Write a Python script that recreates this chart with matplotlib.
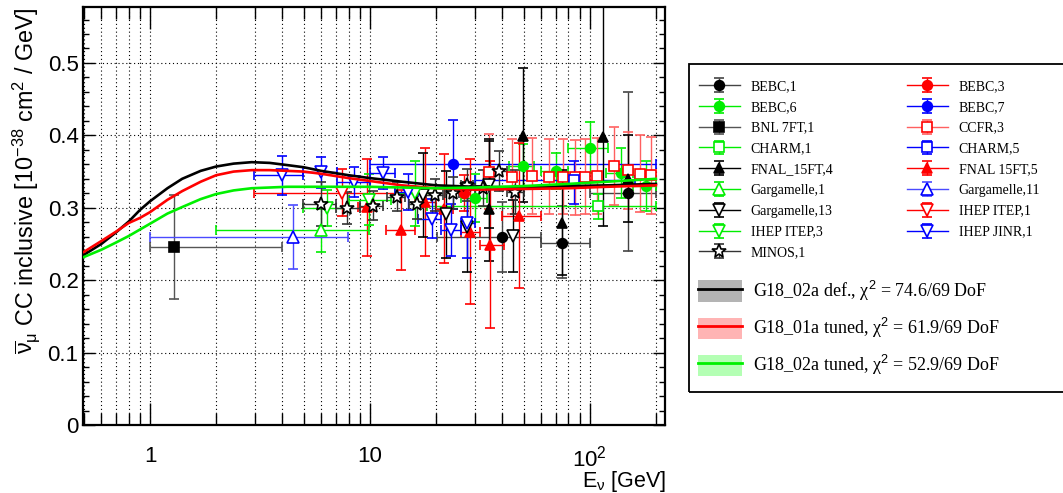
import numpy as np
import matplotlib
matplotlib.use("Agg")
import matplotlib.pyplot as plt
from matplotlib.lines import Line2D
from matplotlib.patches import Patch, Rectangle
from matplotlib.ticker import FixedLocator, FixedFormatter, NullFormatter

# ---------------- data ----------------
# model curves (E in GeV, sigma/E in 1e-38 cm^2/GeV)
curve_E = [0.5, 0.6, 0.7, 0.8, 0.9, 1.0, 1.2, 1.4, 1.7, 2.0, 2.4, 2.9, 3.5, 4.2, 5, 6, 8, 10, 14, 20, 30, 50, 80, 120, 200]
g18_02a_def = [0.235, 0.250, 0.266, 0.281, 0.297, 0.309, 0.327, 0.340, 0.351, 0.357, 0.361, 0.363, 0.362, 0.359, 0.356,
               0.351, 0.345, 0.341, 0.336, 0.331, 0.329, 0.328, 0.330, 0.331, 0.333]
g18_01a_tuned = [0.239, 0.254, 0.267, 0.279, 0.286, 0.294, 0.311, 0.323, 0.336, 0.345, 0.350, 0.352, 0.352, 0.351, 0.350,
                 0.347, 0.341, 0.337, 0.331, 0.327, 0.325, 0.326, 0.327, 0.329, 0.331]
g18_02a_tuned = [0.232, 0.242, 0.252, 0.261, 0.270, 0.278, 0.292, 0.301, 0.312, 0.319, 0.324, 0.327, 0.328, 0.329, 0.329,
                 0.329, 0.329, 0.329, 0.328, 0.327, 0.328, 0.330, 0.333, 0.336, 0.340]
model_labels = ["G18_02a def., \u03c7$^{2}$ = 74.6/69 DoF",
                "G18_01a tuned, \u03c7$^{2}$ = 61.9/69 DoF",
                "G18_02a tuned, \u03c7$^{2}$ = 52.9/69 DoF"]

# experimental data: E, sigma, yerr low, yerr high, E bin low, E bin high
bebc1_E = [39.9, 74.8, 150]
bebc1_s = [0.260, 0.251, 0.320]
bebc1_lo = [0.049, 0.048, 0.080]
bebc1_hi = [0.048, 0.051, 0.140]
bebc1_xl = [20.1, 60.3, 100]
bebc1_xh = [60.3, 100, 200]

bebc3_E = [26.8]
bebc3_s = [0.320]
bebc3_lo = [0.025]
bebc3_hi = [0.025]

bebc6_E = [30, 49.8, 70, 100, 139, 180]
bebc6_s = [0.313, 0.358, 0.351, 0.383, 0.348, 0.330]
bebc6_lo = [0.033, 0.030, 0.025, 0.035, 0.035, 0.035]
bebc6_hi = [0.033, 0.030, 0.025, 0.035, 0.035, 0.035]
bebc6_xl = [26, 43, 60, 80, 119, 157]
bebc6_xh = [34, 56, 80, 121, 157, 200]

bebc7_E = [23.9]
bebc7_s = [0.360]
bebc7_lo = [0.061]
bebc7_hi = [0.061]
bebc7_xl = [10.0]
bebc7_xh = [200.0]

bnl_E = [1.28]
bnl_s = [0.246]
bnl_lo = [0.072]
bnl_hi = [0.072]
bnl_xl = [1.0]
bnl_xh = [3.97]

ccfr_E = [34.9, 44.5, 54.9, 65.1, 75.2, 85.5, 94.9, 108.4, 129, 150, 170, 190.6]
ccfr_s = [0.350, 0.343, 0.344, 0.343, 0.343, 0.342, 0.343, 0.344, 0.358, 0.352, 0.347, 0.345]
ccfr_lo = [0.052, 0.052, 0.052, 0.052, 0.052, 0.052, 0.052, 0.053, 0.054, 0.053, 0.053, 0.053]
ccfr_hi = [0.052, 0.052, 0.052, 0.052, 0.052, 0.052, 0.052, 0.053, 0.054, 0.053, 0.053, 0.053]

charm1_E = [109.6]
charm1_s = [0.302]
charm1_lo = [0.017]
charm1_hi = [0.017]
charm1_xl = [18.1]
charm1_xh = [200.0]

charm5_E = [84.8]
charm5_s = [0.338]
charm5_lo = [0.033]
charm5_hi = [0.027]
charm5_xl = [30.0]
charm5_xh = [160.0]

fnal4_E = [34.7, 49.8, 74.8, 115, 150]
fnal4_s = [0.299, 0.399, 0.279, 0.398, 0.340]
fnal4_lo = [0.073, 0.091, 0.072, 0.123, 0.060]
fnal4_hi = [0.096, 0.094, 0.073, 0.250, 0.060]

fnal5_E = [9.72, 13.8, 17.8, 21.8, 28.5, 35.1, 47.6]
fnal5_s = [0.301, 0.269, 0.308, 0.299, 0.267, 0.249, 0.289]
fnal5_lo = [0.067, 0.055, 0.075, 0.075, 0.100, 0.115, 0.100]
fnal5_hi = [0.067, 0.055, 0.075, 0.075, 0.100, 0.115, 0.100]
fnal5_xl = [8.8, 11.9, 16.0, 20.0, 26.0, 31.6, 39.9]
fnal5_xh = [10.6, 16.0, 20.0, 24.0, 31.6, 40.6, 60.3]

garg1_E = [5.97]
garg1_s = [0.269]
garg1_lo = [0.030]
garg1_hi = [0.030]
garg1_xl = [1.99]
garg1_xh = [9.89]

garg11_E = [4.47]
garg11_s = [0.260]
garg11_lo = [0.044]
garg11_hi = [0.044]
garg11_xl = [1.0]
garg11_xh = [7.94]

garg13_E = [17.5, 22.2, 27.7, 34.7, 44.8]
garg13_s = [0.318, 0.291, 0.274, 0.332, 0.261]
garg13_lo = [0.058, 0.060, 0.062, 0.060, 0.050]
garg13_hi = [0.058, 0.060, 0.062, 0.060, 0.050]

itep1_E = [7.44]
itep1_s = [0.321]
itep1_lo = [0.033]
itep1_hi = [0.033]
itep1_xl = [2.98]
itep1_xh = [20.0]

itep3_E = [6.4, 9.93, 16.0]
itep3_s = [0.300, 0.311, 0.320]
itep3_lo = [0.025, 0.035, 0.045]
itep3_hi = [0.025, 0.035, 0.045]
itep3_xl = [4.94, 8.0, 13.0]
itep3_xh = [8.0, 12.5, 20.0]

jinr_E = [3.98, 5.97, 8.46, 11.42, 14.9, 19.1, 23.3, 27.8]
jinr_s = [0.345, 0.349, 0.336, 0.348, 0.322, 0.285, 0.269, 0.279]
jinr_lo = [0.027, 0.021, 0.021, 0.022, 0.025, 0.027, 0.036, 0.048]
jinr_hi = [0.027, 0.021, 0.021, 0.022, 0.025, 0.027, 0.036, 0.048]
jinr_xl = [2.98, 4.94, 7.1, 10.0, 13.0, 16.5, 21.0, 26.0]
jinr_xh = [4.97, 7.06, 10.0, 13.0, 16.5, 21.0, 26.0, 30.0]

minos_E = [5.97, 7.84, 10.3, 13.3, 16.3, 19.7, 23.8, 27.7, 32.7, 38.7, 45.6]
minos_s = [0.305, 0.300, 0.303, 0.315, 0.305, 0.318, 0.320, 0.331, 0.327, 0.351, 0.322]
minos_lo = [0.030, 0.022, 0.020, 0.020, 0.020, 0.022, 0.022, 0.022, 0.025, 0.028, 0.030]
minos_hi = [0.030, 0.022, 0.020, 0.020, 0.020, 0.022, 0.022, 0.022, 0.025, 0.028, 0.030]
minos_xl = [4.94, 7.0, 9.0, 12.0, 15.0, 18.0, 22.0, 26.0, 30.0, 35.0, 42.0]
minos_xh = [7.0, 9.0, 11.5, 14.5, 17.5, 21.5, 25.5, 29.5, 35.0, 42.0, 50.0]

x_tick_vals = [1, 10, 100]
x_tick_labels = ["1", "10", "10$^{2}$"]
y_tick_vals = [0, 0.1, 0.2, 0.3, 0.4, 0.5]
y_tick_labels = ["0", "0.1", "0.2", "0.3", "0.4", "0.5"]

# ---------------- styles ----------------
RED, GRN, BLU, BLK = "#ff0000", "#00ee00", "#0000ff", "#000000"
datasets = [
    # label, E, s, lo, hi, xl, xh, marker, mcolor, face, ecolor, ms
    ("BEBC,1", bebc1_E, bebc1_s, bebc1_lo, bebc1_hi, bebc1_xl, bebc1_xh, "o", BLK, BLK, "#444444", 7),
    ("BEBC,3", bebc3_E, bebc3_s, bebc3_lo, bebc3_hi, None, None, "o", RED, RED, RED, 7),
    ("BEBC,6", bebc6_E, bebc6_s, bebc6_lo, bebc6_hi, bebc6_xl, bebc6_xh, "o", GRN, GRN, GRN, 7),
    ("BEBC,7", bebc7_E, bebc7_s, bebc7_lo, bebc7_hi, bebc7_xl, bebc7_xh, "o", BLU, BLU, BLU, 7),
    ("BNL 7FT,1", bnl_E, bnl_s, bnl_lo, bnl_hi, bnl_xl, bnl_xh, "s", BLK, BLK, "#555555", 7),
    ("CCFR,3", ccfr_E, ccfr_s, ccfr_lo, ccfr_hi, None, None, "s", RED, "white", "#ff6060", 7),
    ("CHARM,1", charm1_E, charm1_s, charm1_lo, charm1_hi, charm1_xl, charm1_xh, "s", GRN, "white", GRN, 7),
    ("CHARM,5", charm5_E, charm5_s, charm5_lo, charm5_hi, charm5_xl, charm5_xh, "s", BLU, "white", BLU, 7),
    ("FNAL_15FT,4", fnal4_E, fnal4_s, fnal4_lo, fnal4_hi, None, None, "^", BLK, BLK, BLK, 7.5),
    ("FNAL 15FT,5", fnal5_E, fnal5_s, fnal5_lo, fnal5_hi, fnal5_xl, fnal5_xh, "^", RED, RED, RED, 7.5),
    ("Gargamelle,1", garg1_E, garg1_s, garg1_lo, garg1_hi, garg1_xl, garg1_xh, "^", GRN, "white", GRN, 8),
    ("Gargamelle,11", garg11_E, garg11_s, garg11_lo, garg11_hi, garg11_xl, garg11_xh, "^", BLU, "white", "#4a4aff", 8),
    ("Gargamelle,13", garg13_E, garg13_s, garg13_lo, garg13_hi, None, None, "v", BLK, "white", BLK, 8),
    ("IHEP ITEP,1", itep1_E, itep1_s, itep1_lo, itep1_hi, itep1_xl, itep1_xh, "v", RED, "white", RED, 8),
    ("IHEP ITEP,3", itep3_E, itep3_s, itep3_lo, itep3_hi, itep3_xl, itep3_xh, "v", GRN, "white", GRN, 8),
    ("IHEP JINR,1", jinr_E, jinr_s, jinr_lo, jinr_hi, jinr_xl, jinr_xh, "v", BLU, "white", BLU, 8),
    ("MINOS,1", minos_E, minos_s, minos_lo, minos_hi, minos_xl, minos_xh, "*", BLK, "white", "#333333", 10),
]

plt.rcParams["font.family"] = ["Liberation Sans", "DejaVu Sans"]
plt.rcParams["mathtext.fontset"] = "custom"
plt.rcParams["mathtext.rm"] = "Liberation Sans"
plt.rcParams["mathtext.it"] = "Liberation Sans:italic"
plt.rcParams["mathtext.bf"] = "Liberation Sans:bold"

W, H = 1063, 493
fig = plt.figure(figsize=(W / 100, H / 100), dpi=100)
L, R, T, B = 82.7, 665.0, 6.5, 425.0
ax = fig.add_axes([L / W, (H - B) / H, (R - L) / W, (B - T) / H])
ax.set_xscale("log")
ax.set_xlim(0.494, 220)
ax.set_ylim(0, 0.578)

handles = {}
for (lab, E, s, lo, hi, xl, xh, mk, mc, fc, ec, ms) in datasets:
    E = np.asarray(E, float)
    s = np.asarray(s, float)
    xerr = None
    if xl is not None:
        xerr = [E - np.asarray(xl, float), np.asarray(xh, float) - E]
    ax.errorbar(E, s, yerr=[lo, hi], xerr=xerr, fmt=mk, ms=ms, mec=mc, mfc=fc,
                ecolor=ec, elinewidth=1.0, capsize=3.5, capthick=1.0, mew=1.2,
                ls="none", zorder=3)
    # legend proxy (no data drawn)
    h = ax.errorbar([np.nan], [np.nan], yerr=[0.01], fmt=mk, ms=ms, mec=mc, mfc=fc,
                    ecolor=ec, color=ec, elinewidth=1.0, capsize=3.5, capthick=1.0,
                    mew=1.2, ls="-", lw=1.0)
    handles[lab] = h

ax.plot(curve_E, g18_02a_def, color="k", lw=1.9, zorder=4)
ax.plot(curve_E, g18_01a_tuned, color=RED, lw=1.9, zorder=4)
ax.plot(curve_E, g18_02a_tuned, color="#00f000", lw=1.9, zorder=4)

# axes ticks / grid
ax.xaxis.set_major_locator(FixedLocator(x_tick_vals))
ax.xaxis.set_major_formatter(FixedFormatter(x_tick_labels))
minor_x = [m * 10.0 ** d for d in (-1, 0, 1, 2) for m in range(2, 10)]
minor_x = [v for v in minor_x if 0.49 < v < 221 and v not in x_tick_vals]
ax.xaxis.set_minor_locator(FixedLocator(minor_x))
ax.xaxis.set_minor_formatter(NullFormatter())
ax.yaxis.set_major_locator(FixedLocator(y_tick_vals))
ax.yaxis.set_major_formatter(FixedFormatter(y_tick_labels))
ax.yaxis.set_minor_locator(FixedLocator([i * 0.02 for i in range(0, 29)]))

ax.tick_params(which="both", direction="in", top=True, right=True, width=1.0)
ax.tick_params(axis="x", which="major", length=16, pad=15, labelsize=16)
ax.tick_params(axis="x", which="minor", length=8.5)
ax.tick_params(axis="y", which="major", length=8.5, pad=3, labelsize=16)
ax.tick_params(axis="y", which="minor", length=4.2)

ax.grid(which="major", axis="both", color="k", lw=0.8, ls=(0, (1, 2.5)))
ax.grid(which="minor", axis="x", color="k", lw=0.8, ls=(0, (1, 2.5)))
ax.set_axisbelow(True)
for sp in ax.spines.values():
    sp.set_linewidth(1.6)

fig.text(26.5 / W, 1 - 7 / H,
         r"$\overline{\mathrm{\nu}}_{\mathrm{\mu}}$ CC inclusive [10$^{-38}$ cm$^{2}$ / GeV]",
         rotation=90, ha="center", va="top", fontsize=16.8)
fig.text(666 / W, 1 - 482 / H, r"E$_{\mathrm{\nu}}$ [GeV]", ha="right", va="center", fontsize=15.5)

# ---------------- legend ----------------
fig.add_artist(Rectangle((689 / W, 1 - 392 / H), (1075 - 689) / W, (392 - 64) / H,
                         transform=fig.transFigure, fill=False, ec="k", lw=1.3, clip_on=False))
left_labels = ["BEBC,1", "BEBC,6", "BNL 7FT,1", "CHARM,1", "FNAL_15FT,4", "Gargamelle,1",
               "Gargamelle,13", "IHEP ITEP,3", "MINOS,1"]
right_labels = ["BEBC,3", "BEBC,7", "CCFR,3", "CHARM,5", "FNAL 15FT,5", "Gargamelle,11",
                "IHEP ITEP,1", "IHEP JINR,1"]
lprop = {"family": ["Liberation Serif", "DejaVu Serif"], "size": 10}
for labs, x0 in ((left_labels, 699), (right_labels, 907)):
    fig.legend([handles[l] for l in labs], labs, loc="upper left",
               bbox_to_anchor=(x0 / W, 1 - 80 / H), bbox_transform=fig.transFigure,
               frameon=False, borderpad=0, borderaxespad=0, handlelength=2.95,
               handletextpad=0.77, labelspacing=0.56, prop=lprop, numpoints=1)

mh = [(Patch(fc="#b4b4b4", ec="none"), Line2D([], [], color="k", lw=2)),
      (Patch(fc="#ffb4b4", ec="none"), Line2D([], [], color=RED, lw=2)),
      (Patch(fc="#b4ffb4", ec="none"), Line2D([], [], color="#00f000", lw=2))]
fig.legend(mh, model_labels, loc="upper left", bbox_to_anchor=(698 / W, 1 - 279 / H),
           bbox_transform=fig.transFigure, frameon=False, borderpad=0, borderaxespad=0,
           handlelength=2.44, handleheight=1.44, handletextpad=0.6, labelspacing=0.72,
           prop={"family": ["Liberation Serif", "DejaVu Serif"], "size": 13})

fig.savefig("out.png", dpi=100)
